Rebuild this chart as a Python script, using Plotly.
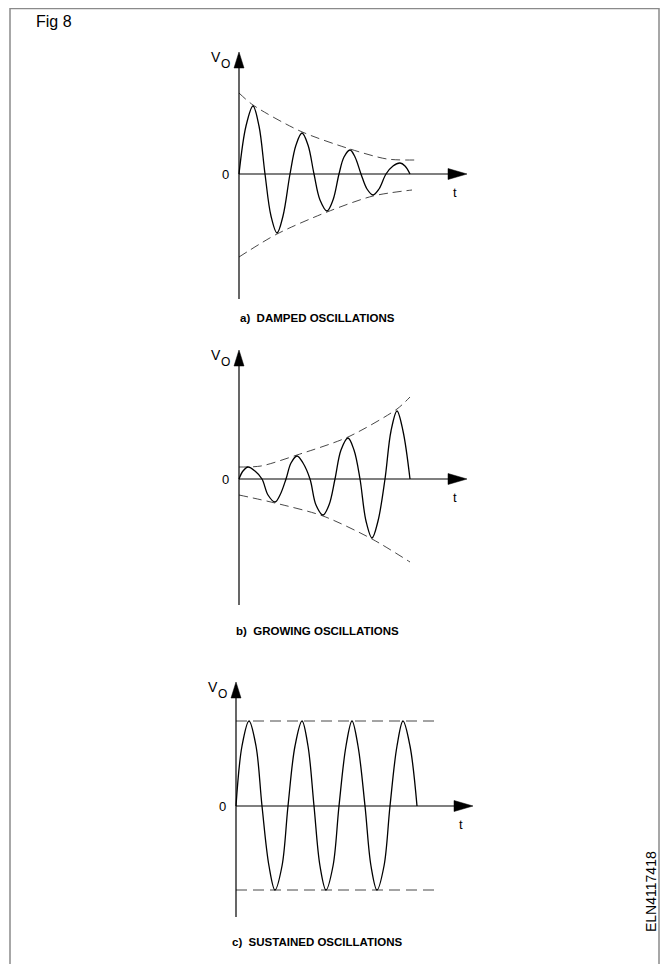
import plotly.graph_objects as go

W, H = 669, 964

# ---------------- data ----------------
# a) damped oscillations: points along the trace (t, v)
a_t = [0, 7, 14, 20, 26, 32, 38, 44, 51, 57, 63, 69, 75, 81, 88, 94, 100,
       105, 111, 116, 122, 128, 134, 140, 147, 154, 161, 166, 171]
a_v = [0, 48, 68, 48, 0, -42, -59, -42, 0, 29, 41, 29, 0, -26, -37, -26, 0,
       17, 24, 17, 0, -15, -21, -15, 0, 8, 11, 8, 0]
a_up_t = [0, 14, 61, 111, 148, 176]
a_up_v = [81, 69, 43, 25, 15, 14]
a_lo_t = [0, 38, 88, 134, 173]
a_lo_v = [-83, -60, -38, -22, -16]

# b) growing oscillations
b_t = [0, 4, 9, 16, 23, 29, 36, 41, 47, 52, 58, 64, 71, 77, 84, 90, 96,
       102, 109, 115, 121, 127, 133, 139, 146, 152, 158, 164, 171]
b_v = [0, 8, 12, 8, 0, -16, -23, -16, 0, 16, 23, 16, 0, -26, -36, -26, 0,
       29, 41, 29, 0, -42, -59, -42, 0, 48, 68, 48, 0]
b_up_t = [0, 22, 58, 109, 158, 171]
b_up_v = [12, 13, 24, 42, 70, 82]
b_lo_t = [0, 36, 84, 133, 171]
b_lo_v = [-16, -24, -37, -60, -83]

# c) sustained oscillations
c_t = [0, 6, 13, 20, 26, 33, 39, 46, 52, 59, 66, 72, 78, 84, 90, 97, 103,
       110, 116, 122, 129, 135, 141, 148, 154, 161, 167, 174, 181]
c_v = [0, 60, 85, 60, 0, -60, -84, -60, 0, 60, 85, 60, 0, -60, -84, -60, 0,
       60, 85, 60, 0, -60, -84, -60, 0, 60, 85, 60, 0]
c_up_t = [0, 204]
c_up_v = [85, 85]
c_lo_t = [0, 204]
c_lo_v = [-84, -84]

titles = ["a)\u00a0\u00a0DAMPED OSCILLATIONS",
          "b)\u00a0\u00a0GROWING OSCILLATIONS",
          "c)\u00a0\u00a0SUSTAINED OSCILLATIONS"]

# ---------------- layout geometry ----------------
FONT = "Arial, Liberation Sans, sans-serif"
OFF = 8  # page margin offset


def px(x):
    return (x - OFF) / W


def py(y):
    return 1 - (y - OFF) / H


panels = [
    dict(x0=239, y0=174, vtop=122, vbot=-125, tend=228, title_y=318,
         t=a_t, v=a_v, ut=a_up_t, uv=a_up_v, lt=a_lo_t, lv=a_lo_v),
    dict(x0=239, y0=479, vtop=129, vbot=-126, tend=228, title_y=631,
         t=b_t, v=b_v, ut=b_up_t, uv=b_up_v, lt=b_lo_t, lv=b_lo_v),
    dict(x0=236, y0=806, vtop=124, vbot=-111, tend=237, title_y=942,
         t=c_t, v=c_v, ut=c_up_t, uv=c_up_v, lt=c_lo_t, lv=c_lo_v),
]

fig = go.Figure()
shapes = []
annotations = []
XL, XR, YR = 40, 245, 140

for i, p in enumerate(panels, start=1):
    xa = "x" if i == 1 else f"x{i}"
    ya = "y" if i == 1 else f"y{i}"
    dom_x = [px(p["x0"] - XL), px(p["x0"] + XR)]
    dom_y = [py(p["y0"] + YR), py(p["y0"] - YR)]
    ax = dict(domain=dom_x, range=[-XL, XR], visible=False, fixedrange=True)
    ay = dict(domain=dom_y, range=[-YR, YR], visible=False, fixedrange=True)
    if i == 1:
        fig.update_layout(xaxis=dict(ax, anchor="y"), yaxis=dict(ay, anchor="x"))
    else:
        fig.update_layout(**{f"xaxis{i}": dict(ax, anchor=ya),
                             f"yaxis{i}": dict(ay, anchor=xa)})

    # envelopes (dashed)
    for tt, vv in ((p["ut"], p["uv"]), (p["lt"], p["lv"])):
        straight = len(tt) <= 2
        fig.add_trace(go.Scatter(
            x=tt, y=vv, xaxis=xa, yaxis=ya, mode="lines",
            line=dict(color="#333333", width=0.9,
                      dash="11px,6px" if straight else "9px,5px",
                      shape="linear" if straight else "spline", smoothing=0.8),
            hoverinfo="skip", showlegend=False))
    # waveform
    fig.add_trace(go.Scatter(
        x=p["t"], y=p["v"], xaxis=xa, yaxis=ya, mode="lines",
        line=dict(color="black", width=1.3, shape="spline", smoothing=1.0),
        hoverinfo="skip", showlegend=False))

    # axes lines
    shapes.append(dict(type="line", xref=xa, yref=ya, x0=0, x1=0,
                       y0=p["vbot"], y1=p["vtop"] - 6, line=dict(color="black", width=1.2)))
    shapes.append(dict(type="line", xref=xa, yref=ya, x0=0, x1=p["tend"] - 8,
                       y0=0, y1=0, line=dict(color="black", width=1.2)))
    # arrow heads
    vt = p["vtop"]
    shapes.append(dict(type="path", xref=xa, yref=ya,
                       path=f"M 0 {vt} L -5 {vt-16} L 5 {vt-16} Z",
                       fillcolor="black", line=dict(color="black", width=0.5)))
    te = p["tend"]
    shapes.append(dict(type="path", xref=xa, yref=ya,
                       path=f"M {te} 0 L {te-19} 5.5 L {te-19} -5.5 Z",
                       fillcolor="black", line=dict(color="black", width=0.5)))

    # axis labels
    annotations.append(dict(xref=xa, yref=ya, x=-16, y=vt - 5, text="V",
                            showarrow=False, xanchor="right", yanchor="middle",
                            font=dict(family=FONT, size=14, color="black")))
    annotations.append(dict(xref=xa, yref=ya, x=-7, y=vt - 12, text="O",
                            showarrow=False, xanchor="right", yanchor="middle",
                            font=dict(family=FONT, size=12, color="black")))
    annotations.append(dict(xref=xa, yref=ya, x=-8, y=0, text="0",
                            showarrow=False, xanchor="right", yanchor="middle",
                            font=dict(family=FONT, size=13, color="black")))
    annotations.append(dict(xref=xa, yref=ya, x=te - 12, y=-18, text="t",
                            showarrow=False, xanchor="center", yanchor="middle",
                            font=dict(family=FONT, size=13, color="black")))
    # panel title
    annotations.append(dict(xref="paper", yref="paper", x=px(317),
                            y=py(p["title_y"]), text=f"<b>{titles[i-1]}</b>",
                            showarrow=False, xanchor="center", yanchor="middle",
                            font=dict(family=FONT, size=11.5, color="black")))

# frame
shapes.append(dict(type="rect", xref="paper", yref="paper",
                   x0=px(10), x1=px(659), y0=-0.02, y1=py(8.5),
                   line=dict(color="#8a8a8a", width=1.5), fillcolor="rgba(0,0,0,0)"))

annotations.append(dict(xref="paper", yref="paper", x=px(34), y=py(22),
                        text="Fig 8", showarrow=False, xanchor="left", yanchor="middle",
                        font=dict(family=FONT, size=16, color="black")))
annotations.append(dict(xref="paper", yref="paper", x=px(651), y=py(892),
                        text="ELN4117418", showarrow=False, textangle=-90,
                        xanchor="center", yanchor="middle",
                        font=dict(family=FONT, size=14, color="black")))

fig.update_layout(width=W, height=H, margin=dict(l=0, r=0, t=0, b=0),
                  paper_bgcolor="white", plot_bgcolor="white",
                  shapes=shapes, annotations=annotations, showlegend=False)

fig.write_html("out.html")
